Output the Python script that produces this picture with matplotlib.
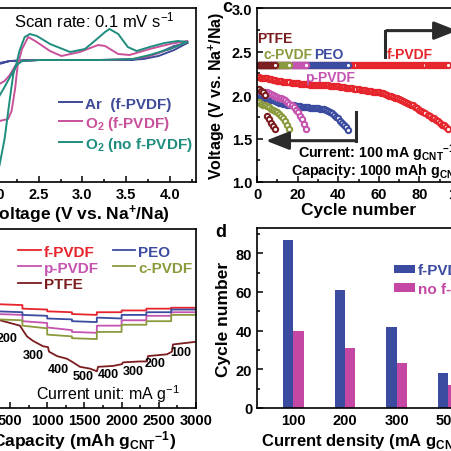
import numpy as np
import matplotlib
matplotlib.use("Agg")
import matplotlib.pyplot as plt
from matplotlib.ticker import MultipleLocator

plt.rcParams['font.family'] = ['Liberation Sans', 'DejaVu Sans']
plt.rcParams['font.weight'] = 'bold'
plt.rcParams['axes.labelweight'] = 'bold'
plt.rcParams['mathtext.default'] = 'regular'
plt.rcParams['axes.linewidth'] = 1.2

# colours
C_F = '#e5242b'    # f-PVDF
C_PEO = '#3b4ba0'  # PEO
C_P = '#c454b0'    # p-PVDF
C_C = '#8a9a3c'    # c-PVDF
C_T = '#7b1c1f'    # PTFE

# ---- panel a: CV curves (V, current) ----
cv_ar_v = [4.20, 4.05, 3.87, 3.70, 3.50, 2.50, 2.17, 2.05, 1.88, 1.75, 1.88, 2.05, 2.17, 2.50, 3.50, 3.64, 3.87, 4.05, 4.20]
cv_ar_i = [1.7, 1.0, 0.4, 0.1, 0.0, 0.0, -0.1, -0.4, -1.1, -1.6, -1.0, -0.3, -0.1, 0.0, 0.0, 0.1, 0.7, 1.4, 1.7]
cv_o2_v = [4.20, 4.00, 3.77, 3.58, 3.20, 2.51, 2.28, 2.23, 2.17, 2.11, 2.05, 1.96, 1.88, 1.82, 1.88, 1.94, 2.05, 2.15,
           2.19, 2.23, 2.26, 2.31, 2.38, 2.46, 2.63, 2.76, 2.97, 3.18, 3.26, 3.41, 3.54, 3.77, 4.00, 4.20]
cv_o2_i = [1.8, 1.1, 0.4, 0.1, 0.0, 0.0, -0.1, -0.6, -1.5, -2.1, -2.4, -3.4, -4.7, -5.8, -6.4, -6.4, -6.1, -5.9,
           -5.1, -2.9, -0.5, 1.1, 2.3, 1.9, 0.9, 0.4, 0.8, 1.5, 1.4, 0.6, 0.5, 1.1, 1.6, 1.9]
cv_no_v = [4.20, 4.00, 3.77, 3.58, 3.20, 2.51, 2.31, 2.25, 2.19, 2.11, 2.05, 1.96, 1.88, 1.82, 1.86, 1.94, 1.99, 2.05,
           2.11, 2.17, 2.21, 2.25, 2.28, 2.34, 2.40, 2.48, 2.63, 2.86, 3.03, 3.14, 3.26, 3.31, 3.41, 3.52, 3.62,
           3.77, 3.94, 4.09, 4.20]
cv_no_i = [1.8, 1.1, 0.5, 0.1, 0.0, 0.0, -0.1, -0.5, -1.4, -2.7, -3.6, -5.1, -6.9, -9.0, -11.5, -12.0, -11.8, -10.6,
           -7.9, -3.9, -1.4, -0.2, 0.9, 2.3, 2.6, 2.4, 1.6, 0.8, 1.1, 1.9, 2.8, 3.1, 2.6, 1.3, 0.9,
           1.3, 1.7, 1.9, 1.8]

# ---- panel c: discharge terminal voltage per cycle ----
v_fpvdf = [2.21, 2.20, 2.20, 2.19, 2.19, 2.18, 2.18, 2.17, 2.17, 2.16,
           2.16, 2.16, 2.15, 2.15, 2.15, 2.15, 2.14, 2.14, 2.14, 2.14,
           2.13, 2.13, 2.13, 2.13, 2.13, 2.12, 2.12, 2.12, 2.12, 2.12,
           2.11, 2.11, 2.11, 2.11, 2.11, 2.10, 2.10, 2.10, 2.10, 2.10,
           2.09, 2.09, 2.09, 2.08, 2.08, 2.08, 2.08, 2.07, 2.07, 2.07,
           2.06, 2.06, 2.06, 2.05, 2.05, 2.05, 2.04, 2.04, 2.03, 2.03,
           2.02, 2.02, 2.01, 2.00, 1.99, 1.99, 1.98, 1.97, 1.96, 1.95,
           1.94, 1.93, 1.92, 1.91, 1.90, 1.89, 1.88, 1.86, 1.85, 1.83,
           1.82, 1.80, 1.79, 1.77, 1.76, 1.74, 1.73, 1.71, 1.70, 1.68,
           1.66, 1.65, 1.63, 1.61]
v_peo = [2.00, 1.99, 1.98, 1.97, 1.96, 1.95, 1.94, 1.94, 1.93, 1.92,
         1.91, 1.91, 1.90, 1.90, 1.89, 1.89, 1.88, 1.88, 1.87, 1.87,
         1.87, 1.86, 1.86, 1.86, 1.86, 1.85, 1.85, 1.85, 1.85, 1.85,
         1.84, 1.84, 1.84, 1.83, 1.82, 1.81, 1.79, 1.77, 1.75, 1.73,
         1.70, 1.68, 1.66, 1.63, 1.60]
v_ppvdf = [2.06, 2.05, 2.04, 2.03, 2.03, 2.02, 2.01, 2.00, 1.99, 1.98, 1.97, 1.96,
           1.95, 1.94, 1.92, 1.90, 1.88, 1.86, 1.83, 1.80, 1.76, 1.72, 1.67, 1.61]
v_cpvdf = [1.92, 1.90, 1.89, 1.88, 1.87, 1.86, 1.84, 1.83, 1.82, 1.80, 1.78, 1.76, 1.73, 1.70, 1.66, 1.61]
v_ptfe = [2.07, 2.05, 2.03, 2.00, 1.76, 1.72, 1.68, 1.64, 1.61]
charge_v = 2.35

# ---- panel e: rate capability ----
seg_edges = [0, 333, 667, 1000, 1333, 1667, 2000, 2333, 2667, 3000]
rate_labels = ['200', '300', '400', '500', '400', '300', '200', '100']
rate_f = [(2.18, 2.17), (2.16, 2.15), (2.11, 2.10), (2.08, 2.07), (2.05, 2.04), (2.07, 2.07), (2.09, 2.09), (2.11, 2.11), (2.12, 2.12)]
rate_peo = [(2.10, 2.09), (2.08, 2.07), (2.04, 2.03), (2.00, 1.99), (1.97, 1.96), (2.01, 2.00), (2.04, 2.04), (2.07, 2.07), (2.10, 2.10)]
rate_p = [(2.07, 2.06), (2.05, 2.04), (1.97, 1.95), (1.90, 1.87), (1.85, 1.84), (1.92, 1.92), (1.98, 1.98), (2.03, 2.03), (2.07, 2.07)]
rate_c = [(2.02, 2.01), (1.99, 1.98), (1.92, 1.89), (1.82, 1.80), (1.78, 1.77), (1.85, 1.85), (1.93, 1.93), (1.97, 1.97), (2.04, 2.04)]
ptfe_cap = [0, 229, 366, 634, 688, 728, 809, 944, 1011, 1024, 1132, 1266, 1347, 1441, 1575, 1669, 1683,
            1884, 2005, 2019, 2247, 2341, 2355, 2610, 2677, 2691, 3000]
ptfe_v = [2.08, 2.04, 1.98, 1.92, 1.85, 1.80, 1.75, 1.69, 1.68, 1.63, 1.58, 1.55, 1.51, 1.46, 1.44, 1.41, 1.46,
          1.47, 1.49, 1.51, 1.52, 1.52, 1.58, 1.60, 1.63, 1.71, 1.74]
label_cap = [460, 809, 1145, 1481, 1817, 2153, 2449, 2798]
label_v = [1.78, 1.59, 1.44, 1.36, 1.38, 1.41, 1.50, 1.63]

# ---- panel d: cycle number vs current density ----
densities = ['100', '200', '300', '500']
cyc_f = [87, 61, 42, 18]
cyc_no = [40, 31, 23, 12]

fig = plt.figure(figsize=(4.52, 4.52), dpi=100)


def px_axes(left, top, right, bottom):
    return fig.add_axes([left / 452, 1 - bottom / 452, (right - left) / 452, (bottom - top) / 452])


def style(ax):
    ax.tick_params(which='both', direction='in', labelsize=10.5, width=1.1)
    ax.tick_params(which='major', length=4)
    ax.tick_params(which='minor', length=2.5)


# panel a
ax_a = px_axes(-40, 9, 196, 183)
ax_a.plot(cv_ar_v, cv_ar_i, color='#3f4b99', lw=1.4, label='Ar  (f-PVDF)')
ax_a.plot(cv_o2_v, cv_o2_i, color='#c9519b', lw=1.4, label='O$_2$ (f-PVDF)')
ax_a.plot(cv_no_v, cv_no_i, color='#1f8d7e', lw=1.4, label='O$_2$ (no f-PVDF)')
ax_a.set_xlim(1.6, 4.3)
ax_a.set_ylim(-12.2, 5.2)
ax_a.xaxis.set_major_locator(MultipleLocator(0.5))
ax_a.xaxis.set_minor_locator(MultipleLocator(0.25))
ax_a.xaxis.set_major_formatter(matplotlib.ticker.FormatStrFormatter('%.1f'))
style(ax_a)
ax_a.set_xlabel('Voltage (V vs. Na$^{+}$/Na)', fontsize=12.5, labelpad=1)
ax_a.text(0.57, 0.935, 'Scan rate: 0.1 mV s$^{-1}$', transform=ax_a.transAxes, ha='center', va='center',
          fontsize=12, fontweight='normal')
ax_a.legend(loc='upper left', bbox_to_anchor=(0.36, 0.57), frameon=False, fontsize=11,
            handlelength=1.5, handletextpad=0.2, labelspacing=0.2, labelcolor='linecolor')

# panel c
ax_c = px_axes(257, 9, 460, 183)
bars = [(v_fpvdf, C_F), (v_peo, C_PEO), (v_ppvdf, C_P), (v_cpvdf, C_C), (v_ptfe, C_T)]
for vals, col in bars:
    cyc = np.arange(1, len(vals) + 1)
    ax_c.plot(cyc, [charge_v] * len(vals), 'o', ms=3.8, mfc='white', mec=col, mew=1.5)
for vals, col in bars:
    cyc = np.arange(1, len(vals) + 1)
    ax_c.plot(cyc, vals, 'o', ms=3.8, mfc='white', mec=col, mew=1.5)
ax_c.set_xlim(0, 100)
ax_c.set_ylim(1.0, 3.0)
ax_c.xaxis.set_major_locator(MultipleLocator(20))
ax_c.xaxis.set_minor_locator(MultipleLocator(10))
ax_c.yaxis.set_major_locator(MultipleLocator(0.5))
ax_c.yaxis.set_minor_locator(MultipleLocator(0.25))
style(ax_c)
ax_c.set_xlabel('Cycle number', fontsize=12.5, labelpad=1)
ax_c.set_ylabel('Voltage (V vs. Na$^{+}$/Na)', fontsize=11.5, labelpad=3)
ax_c.text(8.9, 2.65, 'PTFE', color=C_T, fontsize=10, ha='center', va='center')
ax_c.text(15.5, 2.47, 'c-PVDF', color=C_C, fontsize=10, ha='center', va='center')
ax_c.text(35.5, 2.47, 'PEO', color=C_PEO, fontsize=10, ha='center', va='center')
ax_c.text(36, 2.21, 'p-PVDF', color=C_P, fontsize=10, ha='center', va='center')
ax_c.text(75.4, 2.47, 'f-PVDF', color=C_F, fontsize=10, ha='center', va='center')
ax_c.text(20.2, 1.34, 'Current: 100 mA g$_{CNT}$$^{-1}$', fontsize=10.3, va='center')
ax_c.text(16.8, 1.13, 'Capacity: 1000 mAh g$_{CNT}$$^{-1}$', fontsize=10.3, va='center')
ax_c.plot([49, 49], [1.80, 1.475], color='#2b2b2b', lw=2.2)
ax_c.annotate('', xy=(3, 1.475), xytext=(49.5, 1.475),
              arrowprops=dict(arrowstyle='-|>,head_length=1.4,head_width=0.55', color='#2b2b2b', lw=2.2))
ax_c.plot([63, 63], [2.44, 2.74], color='#2b2b2b', lw=2.2)
ax_c.annotate('', xy=(100, 2.74), xytext=(62.5, 2.74),
              arrowprops=dict(arrowstyle='-|>,head_length=1.4,head_width=0.55', color='#2b2b2b', lw=2.2))
fig.text(227 / 452, 1 - 7 / 452, 'c', fontsize=13, ha='center', va='center')

# panel e
ax_e = px_axes(-27.2, 230, 196, 409)


def steps(levels):
    xs, ys = [], []
    for k, (a, b) in enumerate(levels):
        xs += [seg_edges[k], seg_edges[k + 1]]
        ys += [a, b]
    return xs, ys


for levels, col, lab in [(rate_f, C_F, 'f-PVDF'), (rate_p, C_P, 'p-PVDF')]:
    xs, ys = steps(levels)
    ax_e.plot(xs, ys, color=col, lw=1.3, label=lab)
ax_e.plot(ptfe_cap, ptfe_v, color=C_T, lw=1.3, label='PTFE')
for levels, col, lab in [(rate_peo, C_PEO, 'PEO'), (rate_c, C_C, 'c-PVDF')]:
    xs, ys = steps(levels)
    ax_e.plot(xs, ys, color=col, lw=1.3, label=lab)
for x, y, t in zip(label_cap, label_v, rate_labels):
    ax_e.text(x, y, t, ha='center', va='center', fontsize=9)
ax_e.text(1817, 1.17, 'Current unit: mA g$^{-1}$', ha='center', va='center', fontsize=11.5, fontweight='normal')
ax_e.set_xlim(0, 3000)
ax_e.set_ylim(1.0, 3.0)
ax_e.xaxis.set_major_locator(MultipleLocator(500))
ax_e.xaxis.set_minor_locator(MultipleLocator(250))
style(ax_e)
ax_e.set_xlabel('Capacity (mAh g$_{CNT}$$^{-1}$)', fontsize=12.5, labelpad=1)
ax_e.legend(loc='upper left', bbox_to_anchor=(0.14, 0.99), ncol=2, frameon=False, fontsize=11,
            handlelength=1.5, handletextpad=0.2, labelspacing=0.15, columnspacing=0.9, labelcolor='linecolor')

# panel d
ax_d = px_axes(257, 229, 484.5, 409)
pos = np.arange(len(densities))
ax_d.bar(pos - 0.1, cyc_f, width=0.2, color='#3b4ba0', label='f-PVDF')
ax_d.bar(pos + 0.1, cyc_no, width=0.2, color='#c447a4', label='no f-PVDF')
ax_d.set_xticks(pos)
ax_d.set_xticklabels(densities)
ax_d.set_xlim(-0.7, 3.7)
ax_d.set_ylim(0, 93)
ax_d.yaxis.set_major_locator(MultipleLocator(20))
ax_d.yaxis.set_minor_locator(MultipleLocator(10))
style(ax_d)
ax_d.tick_params(axis='x', which='both', length=0)
ax_d.set_xlabel('Current density (mA g$_{CNT}$$^{-1}$)', fontsize=12, labelpad=1)
ax_d.set_ylabel('Cycle number', fontsize=12.5, labelpad=3)
leg = ax_d.legend(loc='upper left', bbox_to_anchor=(0.54, 0.88), frameon=False, fontsize=11,
                  handlelength=1.4, handleheight=0.5, handletextpad=0.2, labelspacing=0.3)
for txt, col in zip(leg.get_texts(), ['#3b4ba0', '#c447a4']):
    txt.set_color(col)
fig.text(221 / 452, 1 - 233 / 452, 'd', fontsize=13, ha='center', va='center')

fig.savefig('out.png', dpi=100)
